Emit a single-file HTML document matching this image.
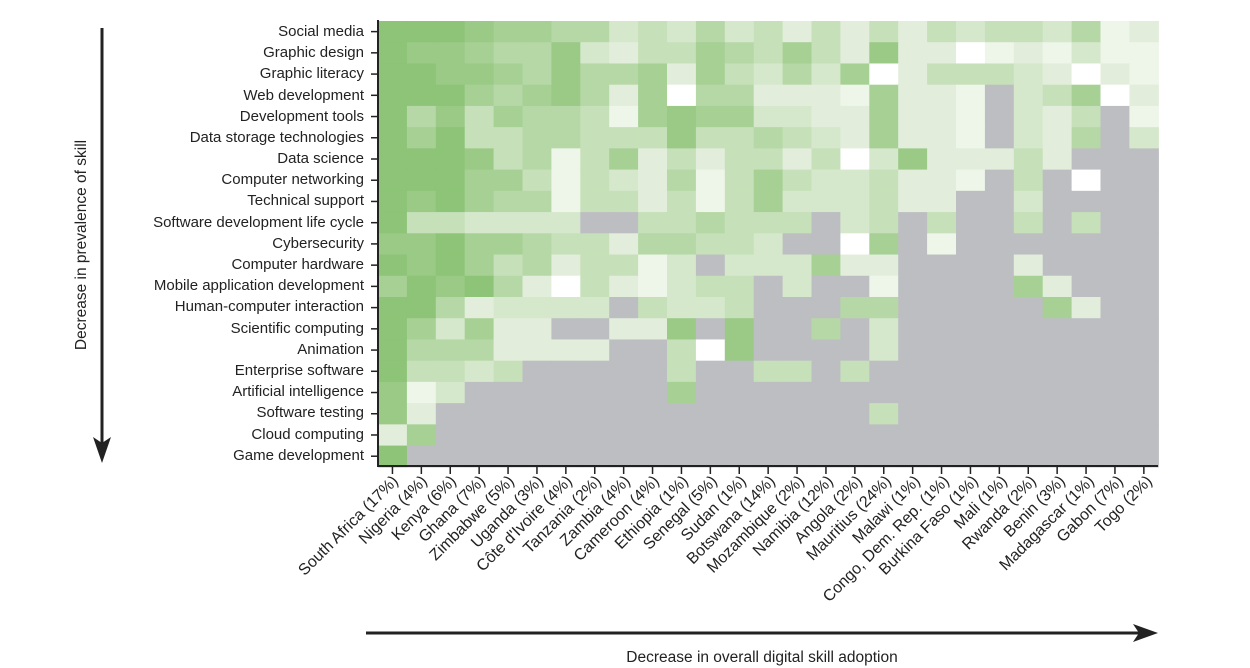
<!DOCTYPE html>
<html><head><meta charset="utf-8"><style>
html,body{margin:0;padding:0;background:#fff;}
svg{display:block;font-family:"Liberation Sans",sans-serif;}
</style></head><body>
<svg id="s" width="1250" height="668" viewBox="0 0 1250 668" xmlns="http://www.w3.org/2000/svg">
<g id="cells"></g>
<g stroke="#222" stroke-width="2" fill="none">
<line x1="378" y1="20" x2="378" y2="467"/>
<line x1="377" y1="466" x2="1158" y2="466"/>
</g>
<g id="ticks" stroke="#222" stroke-width="1.5"></g>
<g font-size="15" fill="#222" text-anchor="end">
<text x="364" y="36">Social media</text>
<text x="364" y="57">Graphic design</text>
<text x="364" y="78">Graphic literacy</text>
<text x="364" y="100">Web development</text>
<text x="364" y="121">Development tools</text>
<text x="364" y="142">Data storage technologies</text>
<text x="364" y="163">Data science</text>
<text x="364" y="184">Computer networking</text>
<text x="364" y="205">Technical support</text>
<text x="364" y="227">Software development life cycle</text>
<text x="364" y="248">Cybersecurity</text>
<text x="364" y="269">Computer hardware</text>
<text x="364" y="290">Mobile application development</text>
<text x="364" y="311">Human-computer interaction</text>
<text x="364" y="333">Scientific computing</text>
<text x="364" y="354">Animation</text>
<text x="364" y="375">Enterprise software</text>
<text x="364" y="396">Artificial intelligence</text>
<text x="364" y="417">Software testing</text>
<text x="364" y="439">Cloud computing</text>
<text x="364" y="460">Game development</text>
</g>
<g font-size="16" fill="#222" text-anchor="end">
<text transform="translate(399,482) rotate(-45)">South Africa (17%)</text>
<text transform="translate(428,482) rotate(-45)">Nigeria (4%)</text>
<text transform="translate(457,482) rotate(-45)">Kenya (6%)</text>
<text transform="translate(486,482) rotate(-45)">Ghana (7%)</text>
<text transform="translate(515,482) rotate(-45)">Zimbabwe (5%)</text>
<text transform="translate(544,482) rotate(-45)">Uganda (3%)</text>
<text transform="translate(573,482) rotate(-45)">Côte d'Ivoire (4%)</text>
<text transform="translate(602,482) rotate(-45)">Tanzania (2%)</text>
<text transform="translate(631,482) rotate(-45)">Zambia (4%)</text>
<text transform="translate(660,482) rotate(-45)">Cameroon (4%)</text>
<text transform="translate(689,482) rotate(-45)">Ethiopia (1%)</text>
<text transform="translate(718,482) rotate(-45)">Senegal (5%)</text>
<text transform="translate(747,482) rotate(-45)">Sudan (1%)</text>
<text transform="translate(776,482) rotate(-45)">Botswana (14%)</text>
<text transform="translate(805,482) rotate(-45)">Mozambique (2%)</text>
<text transform="translate(834,482) rotate(-45)">Namibia (12%)</text>
<text transform="translate(863,482) rotate(-45)">Angola (2%)</text>
<text transform="translate(892,482) rotate(-45)">Mauritius (24%)</text>
<text transform="translate(921,482) rotate(-45)">Malawi (1%)</text>
<text transform="translate(950,482) rotate(-45)">Congo, Dem. Rep. (1%)</text>
<text transform="translate(979,482) rotate(-45)">Burkina Faso (1%)</text>
<text transform="translate(1008,482) rotate(-45)">Mali (1%)</text>
<text transform="translate(1037,482) rotate(-45)">Rwanda (2%)</text>
<text transform="translate(1066,482) rotate(-45)">Benin (3%)</text>
<text transform="translate(1095,482) rotate(-45)">Madagascar (1%)</text>
<text transform="translate(1124,482) rotate(-45)">Gabon (7%)</text>
<text transform="translate(1153,482) rotate(-45)">Togo (2%)</text>
</g>
<line x1="102" y1="28" x2="102" y2="445" stroke="#222" stroke-width="3"/>
<polygon points="93,437 102,463 111,437 102,443" fill="#222"/>
<text transform="translate(86,245) rotate(-90)" font-size="15.5" fill="#222" text-anchor="middle">Decrease in prevalence of skill</text>
<line x1="366" y1="633" x2="1140" y2="633" stroke="#222" stroke-width="3"/>
<polygon points="1133,624 1158,633 1133,642 1139,633" fill="#222"/>
<text x="762" y="662" font-size="15.5" fill="#222" text-anchor="middle">Decrease in overall digital skill adoption</text>
</svg>
<script>
var M=[
[8,8,8,7,6,6,5,5,3,4,3,5,3,4,2,4,2,4,2,4,3,4,4,3,5,1,2],
[8,7,7,6,5,5,7,3,2,4,4,6,5,4,6,4,2,7,2,2,0,1,2,1,3,1,1],
[8,8,7,7,6,5,7,5,5,6,2,6,4,3,5,3,6,0,2,4,4,4,3,2,0,2,1],
[8,8,8,6,5,6,7,5,2,6,0,5,5,2,2,2,1,6,2,2,1,'G',3,4,6,0,2],
[8,5,7,4,6,5,5,4,1,6,7,6,6,3,3,2,2,6,2,2,1,'G',3,2,4,'G',1],
[8,6,8,4,4,5,5,4,4,4,7,4,4,5,4,3,2,6,2,2,1,'G',3,2,5,'G',3],
[8,8,8,7,4,5,1,4,6,2,4,2,4,4,2,4,0,3,7,2,2,2,4,2,'G','G','G'],
[8,8,8,6,6,4,1,4,3,2,5,1,4,6,4,3,3,4,2,2,1,'G',4,'G',0,'G','G'],
[8,7,8,6,5,5,1,4,4,2,4,1,4,6,3,3,3,4,2,2,'G','G',3,'G','G','G','G'],
[8,4,4,3,3,3,3,'G','G',4,4,5,4,4,4,'G',3,4,'G',4,'G','G',4,'G',4,'G','G'],
[7,7,8,6,6,5,4,4,2,5,5,4,4,3,'G','G',0,6,'G',1,'G','G','G','G','G','G','G'],
[8,7,8,6,4,5,2,4,4,1,3,'G',3,3,3,6,2,2,'G','G','G','G',2,'G','G','G','G'],
[6,8,7,8,5,2,0,4,2,1,3,4,4,'G',3,'G','G',1,'G','G','G','G',6,2,'G','G','G'],
[8,8,5,2,3,3,3,3,'G',4,3,3,4,'G','G','G',5,5,'G','G','G','G','G',6,2,'G','G'],
[8,6,3,6,2,2,'G','G',2,2,7,'G',7,'G','G',5,'G',3,'G','G','G','G','G','G','G','G','G'],
[8,5,5,5,2,2,2,2,'G','G',4,0,7,'G','G','G','G',3,'G','G','G','G','G','G','G','G','G'],
[8,4,4,3,4,'G','G','G','G','G',4,'G','G',4,4,'G',4,'G','G','G','G','G','G','G','G','G','G'],
[7,1,3,'G','G','G','G','G','G','G',6,'G','G','G','G','G','G','G','G','G','G','G','G','G','G','G','G'],
[7,2,'G','G','G','G','G','G','G','G','G','G','G','G','G','G','G',4,'G','G','G','G','G','G','G','G','G'],
[2,6,'G','G','G','G','G','G','G','G','G','G','G','G','G','G','G','G','G','G','G','G','G','G','G','G','G'],
[8,'G','G','G','G','G','G','G','G','G','G','G','G','G','G','G','G','G','G','G','G','G','G','G','G','G','G']];
var C={G:'#bdbec2',0:'#ffffff',1:'#eef5e9',2:'#e2eedb',3:'#d5e8cc',4:'#c6e0b9',5:'#b6d8a6',6:'#a7d095',7:'#9aca86',8:'#8dc477'};
var ns='http://www.w3.org/2000/svg',g=document.getElementById('cells'),t=document.getElementById('ticks');
var x0=378,y0=21,cw=28.9,rh=21.23;
for(var r=0;r<21;r++){for(var c=0;c<27;c++){var e=document.createElementNS(ns,'rect');
e.setAttribute('x',x0+c*cw);e.setAttribute('y',y0+r*rh);e.setAttribute('width',cw+0.6);e.setAttribute('height',rh+0.6);
e.setAttribute('fill',C[M[r][c]]);g.appendChild(e);}
var l=document.createElementNS(ns,'line');var yy=y0+(r+0.5)*rh;l.setAttribute('x1',371);l.setAttribute('x2',378);l.setAttribute('y1',yy);l.setAttribute('y2',yy);t.appendChild(l);}
for(var c=0;c<27;c++){var l=document.createElementNS(ns,'line');var xx=x0+(c+0.5)*cw;l.setAttribute('x1',xx);l.setAttribute('x2',xx);l.setAttribute('y1',466);l.setAttribute('y2',474);t.appendChild(l);}
</script>
</body></html>
